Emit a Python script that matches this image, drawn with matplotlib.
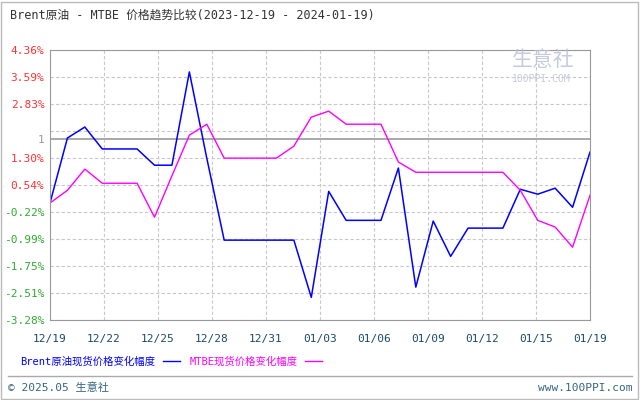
import matplotlib
matplotlib.use("Agg")
import matplotlib.pyplot as plt
from matplotlib.patches import Rectangle

plt.rcParams['font.family'] = ['DejaVu Sans Mono', 'Noto Sans CJK SC']

# === data (daily, 2023-12-19 .. 2024-01-19) ===
brent = [0.03, 1.87, 2.18, 1.56, 1.56, 1.56, 1.10, 1.10, 3.74, 1.30,
         -1.02, -1.02, -1.02, -1.02, -1.02, -2.64, 0.36, -0.46, -0.46, -0.46,
         1.02, -2.35, -0.48, -1.48, -0.68, -0.68, -0.68, 0.42, 0.28, 0.45,
         -0.09, 1.47]
mtbe = [0.03, 0.39, 0.99, 0.59, 0.59, 0.59, -0.37, 0.80, 1.95, 2.26,
        1.30, 1.30, 1.30, 1.30, 1.64, 2.46, 2.63, 2.26, 2.26, 2.26,
        1.19, 0.90, 0.90, 0.90, 0.90, 0.90, 0.90, 0.39, -0.46, -0.65,
        -1.22, 0.25]
xtick_labels = ["12/19", "12/22", "12/25", "12/28", "12/31", "01/03",
                "01/06", "01/09", "01/12", "01/15", "01/19"]
ytick_vals = [4.36, 3.59, 2.83, 1.30, 0.54, -0.22, -0.99, -1.75, -2.51, -3.28]
grid_vals = [4.36, 3.59, 2.83, 2.07, 1.30, 0.54, -0.22, -0.99, -1.75, -2.51, -3.28]
ref_val = 1.84

n = len(brent) - 1
xtick_pos = [n * i / 10 for i in range(11)]

fig = plt.figure(figsize=(6.4, 4.0), dpi=100)
fig.patches.append(Rectangle((1 / 640, 1 / 400), 637 / 640, 397 / 400,
                             transform=fig.transFigure, fill=False,
                             ec="#bbbbbb", lw=1))
ax = fig.add_axes([50 / 640, 80 / 400, 540 / 640, 270 / 400])

for g in grid_vals:
    ax.axhline(g, color="#c8c8c8", lw=0.8, ls=(0, (3, 2)), zorder=0)
for xp in xtick_pos[1:-1]:
    ax.axvline(xp, color="#c8c8c8", lw=0.8, ls=(0, (3, 2)), zorder=0)
ax.axhline(ref_val, color="#999999", lw=1.2, zorder=1)

days = list(range(len(brent)))
ax.plot(days, brent, color="#0000ff", lw=1.1)
ax.plot(days, mtbe, color="#ff00ff", lw=1.0)

ax.set_xlim(0, n)
ax.set_ylim(-3.28, 4.36)
ax.set_xticks(xtick_pos)
ax.set_xticklabels(xtick_labels, fontsize=8, color="#1a4a6a")
ax.set_yticks(ytick_vals + [ref_val])
ax.set_yticklabels([f"{v:.2f}%" for v in ytick_vals] + ["1"], fontsize=8)
for lbl, v in zip(ax.get_yticklabels(), ytick_vals + [ref_val]):
    if v == ref_val:
        lbl.set_color("#999999")
    else:
        lbl.set_color("#ff3333" if v > 0 else "#33aa33")
ax.tick_params(axis="y", length=0, pad=4)
ax.tick_params(axis="x", length=0, pad=10)
for s in ax.spines.values():
    s.set_color("#999999")

# watermark
fig.text(0.80, 0.835, "生意社", fontsize=15, color="#b8bdd8", alpha=0.8,
         family="Noto Sans CJK SC")
fig.text(0.80, 0.795, "100PPI.COM", fontsize=7, color="#c8cbe0")

# title
fig.text(10 / 640, 1 - 15 / 400, "Brent原油 - MTBE 价格趋势比较(2023-12-19 - 2024-01-19)",
         fontsize=8.5, color="#333333", va="center")

# legend
ly = 1 - 361 / 400
fig.text(20 / 640, ly, "Brent原油现货价格变化幅度", fontsize=7.5,
         color="#0000ff", va="center")
fig.lines.append(plt.Line2D([163 / 640, 180 / 640], [ly] * 2,
                            color="#0000ff", lw=1, transform=fig.transFigure))
fig.text(190 / 640, ly, "MTBE现货价格变化幅度", fontsize=7.5,
         color="#ff00ff", va="center")
fig.lines.append(plt.Line2D([305 / 640, 322 / 640], [ly] * 2,
                            color="#ff00ff", lw=1, transform=fig.transFigure))

# footer
fig.lines.append(plt.Line2D([8 / 640, 632 / 640], [24 / 400] * 2, color="#aaaaaa", lw=1,
                            transform=fig.transFigure))
fig.text(8 / 640, 12 / 400, "© 2025.05 生意社", fontsize=8, color="#336680", va="center")
fig.text(632 / 640, 12 / 400, "www.100PPI.com", fontsize=8, color="#336680",
         va="center", ha="right")

fig.savefig("out.png", dpi=100)
